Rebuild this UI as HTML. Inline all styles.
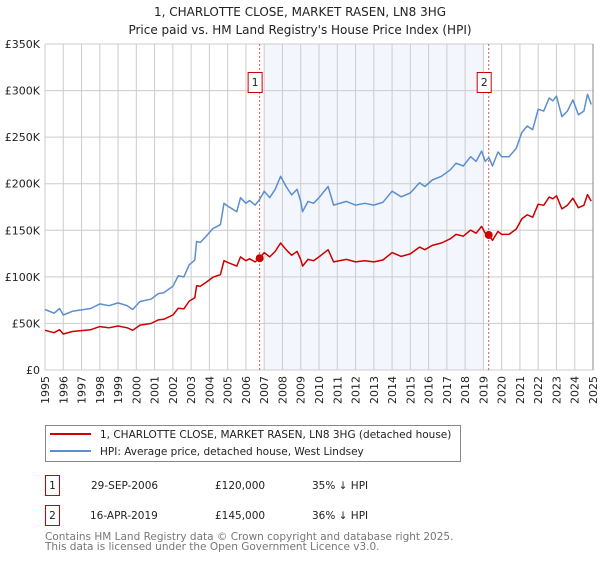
<!DOCTYPE html>
<html><head><meta charset="utf-8"><style>
body{margin:0;background:#fff;width:600px;height:560px;overflow:hidden;font-family:"DejaVu Sans","Liberation Sans",sans-serif;}
svg text{font-family:"DejaVu Sans","Liberation Sans",sans-serif;}
</style></head><body>
<svg id="chart" width="600" height="560" viewBox="0 0 600 560" xmlns="http://www.w3.org/2000/svg">
<text x="300" y="16" font-size="12" text-anchor="middle" fill="#222">1, CHARLOTTE CLOSE, MARKET RASEN, LN8 3HG</text>
<text x="300" y="34" font-size="12" text-anchor="middle" fill="#222">Price paid vs. HM Land Registry's House Price Index (HPI)</text>
<g id="grid"></g>
<g id="marks"></g>
<g id="legend">
<rect x="45.5" y="425.5" width="415" height="36" fill="#fff" stroke="#888"/>
<line x1="50" y1="434" x2="91" y2="434" stroke="#cc0000" stroke-width="2"/>
<text x="100" y="438" font-size="10.5" fill="#222">1, CHARLOTTE CLOSE, MARKET RASEN, LN8 3HG (detached house)</text>
<line x1="50" y1="451" x2="91" y2="451" stroke="#5b8fd0" stroke-width="2"/>
<text x="100" y="455" font-size="10.5" fill="#222">HPI: Average price, detached house, West Lindsey</text>
</g>
<g font-size="10.5" fill="#222">
<rect x="45.5" y="475.5" width="14" height="20" fill="none" stroke="#cc0000"/>
<text x="52.5" y="489" text-anchor="middle">1</text>
<text x="91" y="489">29-SEP-2006</text>
<text x="215" y="489">£120,000</text>
<text x="312" y="489">35% ↓ HPI</text>
<rect x="45.5" y="505.5" width="14" height="20" fill="none" stroke="#cc0000"/>
<text x="52.5" y="519" text-anchor="middle">2</text>
<text x="90" y="519">16-APR-2019</text>
<text x="215" y="519">£145,000</text>
<text x="312" y="519">36% ↓ HPI</text>
</g>
<text x="45" y="540" font-size="10.5" fill="#777">Contains HM Land Registry data © Crown copyright and database right 2025.</text>
<text x="45" y="550" font-size="10.5" fill="#777">This data is licensed under the Open Government Licence v3.0.</text>
</svg>
<script>
const hpiYears=[1995,1995.5,1995.8,1996,1996.5,1997,1997.5,1998,1998.5,1999,1999.5,1999.8,2000.2,2000.8,2001.2,2001.5,2002,2002.3,2002.6,2002.9,2003.2,2003.3,2003.5,2003.8,2004.2,2004.6,2004.8,2005,2005.5,2005.7,2006,2006.2,2006.5,2006.75,2007,2007.3,2007.6,2007.9,2008.2,2008.5,2008.8,2009,2009.1,2009.4,2009.7,2010,2010.5,2010.8,2011.5,2012,2012.5,2013,2013.5,2014,2014.5,2015,2015.5,2015.8,2016.2,2016.7,2017.2,2017.5,2017.9,2018.3,2018.6,2018.9,2019.1,2019.3,2019.5,2019.8,2020,2020.4,2020.8,2021.1,2021.4,2021.7,2022,2022.3,2022.6,2022.8,2023,2023.3,2023.6,2023.9,2024.2,2024.5,2024.7,2024.9];
const hpiValues=[65,61,66,59,63,64.5,66,71,69,72,69,65,73.5,76,82,83,90,101,100,113,118,138,137,143,152,156,179,176,170,185,179,182,177,183,192,185,194,208,197,188,194,181,170,181,179,185,197,177,181,177,179,177,180,192,186,190,201,197,204,208,215,222,219,229,224,235,224,228,219,234,229,229,238,255,262,258,280,278,292,289,294,272,278,290,274,278,296,285];
const priceValues=[42.6,40,43.3,38.7,41.3,42.3,43.3,46.6,45.3,47.2,45.3,42.6,48.2,49.9,53.8,54.4,59,66.3,65.6,74.1,77.4,90.5,89.9,93.8,99.7,102.3,117.4,115.5,111.5,121.4,117.4,119.4,116.1,120,126,121.4,127.3,136.4,129.2,123.3,127.3,118.7,111.5,118.7,117.4,121.4,129.2,116.1,118.7,116.1,117.4,116.1,118.1,126,122,124.6,131.9,129.2,133.8,136.4,141,145.6,143.7,150.2,146.9,154.2,146.9,145,139.3,148.8,145.6,145.6,151.4,162.2,166.6,164.1,178,176.8,185.7,183.8,187,173,176.8,184.4,174.3,176.8,188.3,181.3];
const saleYears=[2006.75,2019.29];
const saleValues=[120,145];
const saleLabels=["1","2"];
const yTicks=[0,50,100,150,200,250,300,350];
const yTickLabels=["£0","£50K","£100K","£150K","£200K","£250K","£300K","£350K"];
const xTicks=[1995,1996,1997,1998,1999,2000,2001,2002,2003,2004,2005,2006,2007,2008,2009,2010,2011,2012,2013,2014,2015,2016,2017,2018,2019,2020,2021,2022,2023,2024,2025];
const shadeRange=[2007,2019];

const X0=45,X1=593,Y0=370,Y1=44;
const xs=y=>X0+(y-1995)/30*(X1-X0);
const ys=v=>Y0-v/350*(Y0-Y1);
const NS="http://www.w3.org/2000/svg";
function mk(tag,attrs,parent){const e=document.createElementNS(NS,tag);for(const k in attrs)e.setAttribute(k,attrs[k]);parent.appendChild(e);return e;}
const grid=document.getElementById('grid'),marks=document.getElementById('marks');

const sh=mk('rect',{x:xs(shadeRange[0]),y:Y1,width:xs(shadeRange[1])-xs(shadeRange[0]),height:Y0-Y1,fill:'#f3f6fd'},grid);


yTicks.forEach((t,i)=>{
  const l=mk('line',{x1:X0,x2:X1,y1:ys(t),y2:ys(t),stroke:'#cccccc'},grid);
  
  
  const tx=mk('text',{x:40,y:ys(t)+4,'font-size':11,'text-anchor':'end',fill:'#222'},grid);
  tx.textContent=yTickLabels[i];
  
  
});
xTicks.forEach(t=>{
  const l=mk('line',{x1:xs(t),x2:xs(t),y1:Y1,y2:Y0,stroke:'#cccccc'},grid);
  
  
  const tx=mk('text',{x:0,y:0,'font-size':11,'text-anchor':'end',fill:'#222',transform:`translate(${xs(t)+4},376) rotate(-90)`},grid);
  tx.textContent=String(t);
  
  
});
const rs=mk('line',{x1:X1,x2:X1,y1:Y1,y2:Y0,stroke:'#888'},grid);



saleYears.forEach((y,i)=>{
  const l=mk('line',{x1:xs(y),x2:xs(y),y1:Y1,y2:Y0,stroke:'#e05555','stroke-dasharray':'2,2'},marks);
  
  
  const b=mk('rect',{x:xs(y)-11.5,y:72.5,width:14,height:20,fill:'#fff',stroke:'#cc0000'},marks);
  
  
  const tx=mk('text',{x:xs(y)-4.5,y:86,'font-size':11,'text-anchor':'middle',fill:'#222'},marks);
  tx.textContent=saleLabels[i];
  
  
});
function line(vals,color,name){
  const d=hpiYears.map((y,i)=>(i?'L':'M')+xs(y).toFixed(1)+','+ys(vals[i]).toFixed(1)).join('');
  const p=mk('path',{d:d,fill:'none',stroke:color,'stroke-width':1.5,'stroke-linejoin':'round'},marks);
  
  
}
line(hpiValues,'#5b8fd0','hpi-line');
line(priceValues,'#cc0000','price-line');
saleYears.forEach((y,i)=>{
  const c=mk('circle',{cx:xs(y),cy:ys(saleValues[i]),r:4,fill:'#cc0000'},marks);
  
  
});
</script>
</body></html>
